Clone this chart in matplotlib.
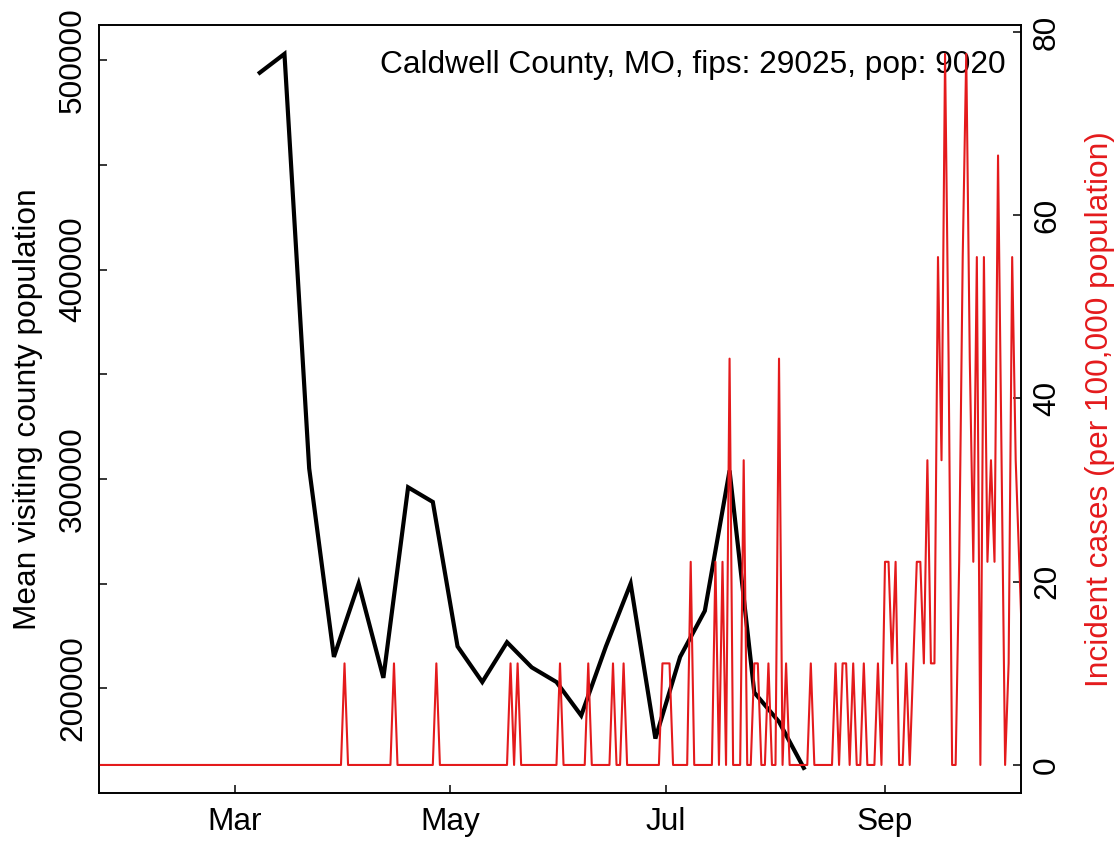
import numpy as np
import pandas as pd
import matplotlib
matplotlib.use("Agg")
import matplotlib.pyplot as plt
import matplotlib.dates as mdates

plt.rcParams['font.family'] = ['Liberation Sans', 'DejaVu Sans']

# weekly mean visiting county population (black line)
week_start = "2020-03-08"
visitors = [494000, 503000, 305000, 215000, 250000, 205000, 296000, 289000,
            220000, 203000, 222000, 210000, 203000, 187000, 220000, 250000,
            176000, 215000, 237000, 304000, 198000, 184000, 162000]

# daily incident cases (only the days with cases), county population
case_dates = ["2020-04-01", "2020-04-15", "2020-04-27", "2020-05-18", "2020-05-20",
              "2020-06-01", "2020-06-09", "2020-06-16", "2020-06-19", "2020-06-30",
              "2020-07-01", "2020-07-02", "2020-07-08", "2020-07-15", "2020-07-17",
              "2020-07-19", "2020-07-23", "2020-07-26", "2020-07-27", "2020-07-30",
              "2020-08-02", "2020-08-04", "2020-08-11", "2020-08-18", "2020-08-20",
              "2020-08-21", "2020-08-23", "2020-08-26", "2020-08-30", "2020-09-01",
              "2020-09-02", "2020-09-03", "2020-09-04", "2020-09-07", "2020-09-09",
              "2020-09-10", "2020-09-11", "2020-09-12", "2020-09-13", "2020-09-14",
              "2020-09-15", "2020-09-16", "2020-09-17", "2020-09-18", "2020-09-19",
              "2020-09-22", "2020-09-23", "2020-09-24", "2020-09-25", "2020-09-26",
              "2020-09-27", "2020-09-29", "2020-09-30", "2020-10-01", "2020-10-02",
              "2020-10-03", "2020-10-04", "2020-10-06", "2020-10-07", "2020-10-08",
              "2020-10-09", "2020-10-10"]
case_counts = [1, 1, 1, 1, 1,
               1, 1, 1, 1, 1,
               1, 1, 2, 2, 2,
               4, 3, 1, 1, 1,
               4, 1, 1, 1, 1,
               1, 1, 1, 1, 2,
               2, 1, 2, 1, 1,
               2, 2, 1, 3, 1,
               1, 5, 3, 7, 4,
               2, 5, 7, 4, 2,
               5, 5, 2, 3, 2,
               6, 3, 1, 5, 3,
               2, 1]
population = 9020
title = "Caldwell County, MO, fips: 29025, pop: 9020"

weeks = pd.date_range(week_start, periods=len(visitors), freq="7D")
days = pd.date_range("2020-01-20", "2020-10-10")
cases = pd.Series(case_counts, index=pd.to_datetime(case_dates)).reindex(days, fill_value=0)
incidence = cases * 100000 / population

red = "#e41a1c"
fs = 22.8

fig = plt.figure(figsize=(11.19, 8.42), dpi=100)
ax = fig.add_axes([99/1119, 1 - 793/842, (1021 - 99)/1119, (793 - 25)/842])
ax.plot(weeks, visitors, color="black", lw=3, solid_joinstyle="miter")
ax.set_xlim(pd.Timestamp("2020-01-22 12:00"), pd.Timestamp("2020-10-09 12:00"))
ax.set_ylim(150000, 516800)
ax.set_yticks([200000, 250000, 300000, 350000, 400000, 450000, 500000])
ax.set_yticklabels(["200000", "", "300000", "", "400000", "", "500000"],
                   rotation=90, va="center")
ax.xaxis.set_major_locator(mdates.MonthLocator(bymonth=[3, 5, 7, 9]))
ax.xaxis.set_major_formatter(mdates.DateFormatter("%b"))

ax2 = ax.twinx()
ax2.plot(days, incidence, color=red, lw=1.5)
ax2.set_ylim(-3.06, 80.76)
ax2.set_yticks([0, 20, 40, 60, 80])
ax2.set_yticklabels(["0", "20", "40", "60", "80"], rotation=90, va="center")

for a in (ax, ax2):
    a.tick_params(direction="in", length=6, width=1.1, labelsize=fs, pad=8)
    for s in a.spines.values():
        s.set_linewidth(1.2)
ax.tick_params(axis="x", pad=10)

ax.text(0.983, 0.948, title, transform=ax.transAxes, ha="right", va="center", fontsize=fs)
fig.text(28/1119, 1 - 409/842, "Mean visiting county population", rotation=90,
         ha="center", va="center", fontsize=fs)
fig.text(1100/1119, 1 - 409/842, "Incident cases (per 100,000 population)", rotation=90,
         ha="center", va="center", fontsize=fs, color=red)

fig.savefig("out.png", dpi=100)
